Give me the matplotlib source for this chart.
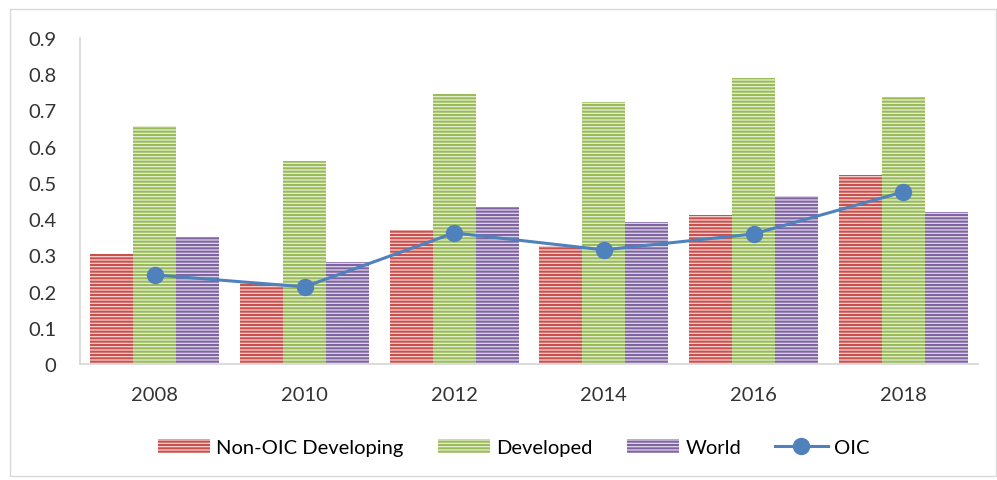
import numpy as np
import matplotlib
matplotlib.use("Agg")
import matplotlib.pyplot as plt
from matplotlib.patches import Rectangle

# data
years = ["2008", "2010", "2012", "2014", "2016", "2018"]
non_oic = [0.304, 0.224, 0.370, 0.326, 0.411, 0.522]
developed = [0.657, 0.561, 0.746, 0.723, 0.790, 0.738]
world = [0.351, 0.282, 0.434, 0.392, 0.464, 0.420]
oic = [0.246, 0.213, 0.362, 0.315, 0.359, 0.475]

plt.rcParams['font.family'] = ['Lato', 'DejaVu Sans']
plt.rcParams['hatch.linewidth'] = 1.5

fig = plt.figure(figsize=(9.97, 4.81), dpi=100)
ax = fig.add_axes([80/997, 116/481, 898/997, 326/481])

x = np.arange(len(years))
w = 0.287
series = [(non_oic, "Non-OIC Developing", "#f5d3d2", "#c9504c"),
          (developed, "Developed", "#e6efd5", "#9bbb59"),
          (world, "World", "#e0d8ea", "#8064a2")]
for i, (vals, lab, fc, hc) in enumerate(series):
    ax.bar(x + (i - 1) * w, vals, w, color=fc, edgecolor=hc, hatch="-----",
           linewidth=0, label=lab)

ax.plot(x, oic, color="#4f81bd", lw=2.2, marker="o", ms=11.5, label="OIC")

ax.set_xlim(-0.5, 5.5)
ax.set_ylim(0, 0.9)
ax.set_yticks(np.arange(0, 0.91, 0.1))
ax.set_yticklabels(["0"] + ["%.1f" % v for v in np.arange(0.1, 0.91, 0.1)])
ax.set_xticks(x)
ax.set_xticklabels(years)
ax.tick_params(length=0, labelsize=14.5, colors="#333333")
ax.tick_params(axis="y", pad=17)
ax.tick_params(axis="x", pad=16)
for s in ["top", "right"]:
    ax.spines[s].set_visible(False)
ax.spines["left"].set_color("#d9d9d9")
ax.spines["bottom"].set_color("#d9d9d9")
ax.spines["left"].set_linewidth(1.3)
ax.spines["bottom"].set_linewidth(1.3)

h, l = ax.get_legend_handles_labels()
order = [1, 2, 3, 0]
fig.legend([h[i] for i in order], [l[i] for i in order], loc="center",
           bbox_to_anchor=(0.515, 0.068), ncol=4, frameon=False,
           fontsize=14.5, handlelength=2.6, columnspacing=1.7, handletextpad=0.3)

fig.patches.append(Rectangle((10/997, 4/481), 986/997, 467/481, transform=fig.transFigure,
                             fill=False, edgecolor="#d9d9d9", lw=1))

fig.savefig("out.png", dpi=100)
